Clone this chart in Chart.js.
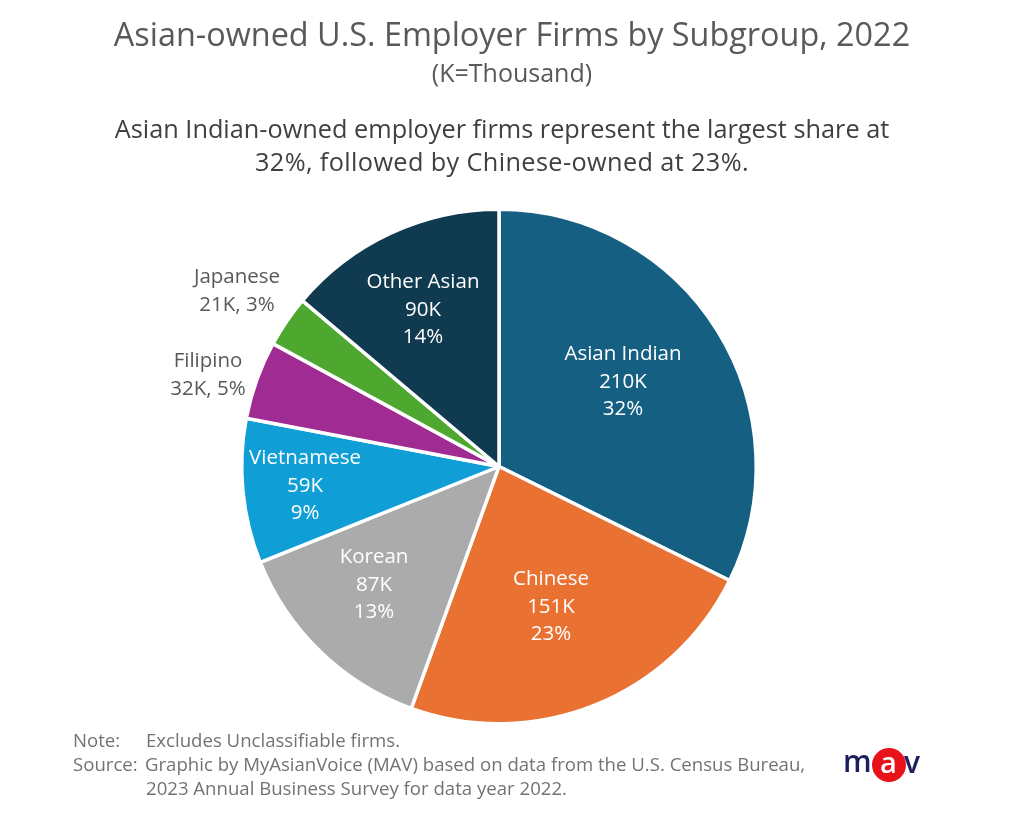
<!DOCTYPE html>
<html><head><meta charset="utf-8">
<script src="https://cdn.jsdelivr.net/npm/chart.js@4"></script>
<style>
html,body{margin:0;padding:0;background:#fff;}
#wrap{position:relative;width:1024px;height:824px;overflow:hidden;font-family:"Open Sans","Noto Sans",sans-serif;color:#595959}
canvas{position:absolute;left:0;top:0}
.t{position:absolute;white-space:nowrap;text-align:center;left:0;width:1024px}
.n{position:absolute;white-space:nowrap;font-size:18.6px;color:#737373;line-height:24px}
.lg{position:absolute;font-family:"Open Sans";line-height:34px;white-space:nowrap}
</style></head><body><div id="wrap">
<canvas id="c" width="1024" height="824"></canvas>
<div class="t" style="top:11px;font-size:32.4px">Asian-owned U.S. Employer Firms by Subgroup, 2022</div>
<div class="t" style="top:55px;font-size:25px">(K=Thousand)</div>
<div class="t" style="top:111px;left:-10px;font-size:25.3px;color:#404040">Asian Indian-owned employer firms represent the largest share at</div>
<div class="t" style="top:144px;left:-10px;font-size:25.3px;letter-spacing:.37px;color:#404040">32%, followed by Chinese-owned at 23%.</div>
<div class="n" style="left:73px;top:728px">Note:</div>
<div class="n" style="left:146px;top:728px">Excludes Unclassifiable firms.</div>
<div class="n" style="left:73px;top:752px">Source:</div>
<div class="n" style="left:145px;top:752px">Graphic by MyAsianVoice (MAV) based on data from the U.S. Census Bureau,</div>
<div class="n" style="left:146px;top:776px">2023 Annual Business Survey for data year 2022.</div>
<div class="lg" style="left:843px;top:744px;font-size:30px;color:#1b1f5e;font-weight:600">m</div>
<div class="lg" style="left:904px;top:745px;font-size:30px;color:#1b1f5e;font-weight:600">v</div>
<div style="position:absolute;left:872px;top:748px;width:34px;height:34px;border-radius:50%;background:#e8121b"></div>
<div class="lg" style="left:880px;top:745px;font-size:29px;color:#fff;font-weight:600">a</div>
</div>
<script>
const categories=["Asian Indian","Chinese","Korean","Vietnamese","Filipino","Japanese","Other Asian"];
const firms=[210,151,87,59,32,21,90];
const shareLabels=["32%","23%","13%","9%","5%","3%","14%"];
const firmLabels=["210K","151K","87K","59K","32K","21K","90K"];
const colors=["#156082","#E97132","#ABABAB","#0F9ED5","#A02B93","#4EA72E","#0F3A50"];
const outside=[false,false,false,false,true,true,false];
const labelPos=[[623,382],[551,607],[374,585],[305,486],[208,375],[237,291],[423,310]];
const labelPlugin={id:'sliceLabels',afterDatasetsDraw(ch){
  const x=ch.ctx;x.save();x.textAlign='center';x.textBaseline='middle';
  x.font='20.5px "Open Sans"';
  categories.forEach((c,i)=>{
    const lines=outside[i]?[c,firmLabels[i]+", "+shareLabels[i]]:[c,firmLabels[i],shareLabels[i]];
    x.fillStyle=outside[i]?'#595959':'#fff';
    const [cx,cy]=labelPos[i];
    const h=outside[i]?28.5:27.5;
    lines.forEach((l,k)=>x.fillText(l,cx,cy+(k-(lines.length-1)/2)*h));
  });
  x.restore();
}};
Chart.defaults.font.family='"Open Sans"';
new Chart(document.getElementById('c'),{
  type:'pie',
  data:{labels:categories,datasets:[{data:firms,backgroundColor:colors,borderColor:'#fff',borderWidth:3.5}]},
  options:{responsive:false,animation:false,devicePixelRatio:1,
    layout:{padding:{left:240,right:266,top:207,bottom:98}},
    plugins:{legend:{display:false},tooltip:{enabled:false},title:{display:false}}},
  plugins:[labelPlugin]
});
</script>
</body></html>
